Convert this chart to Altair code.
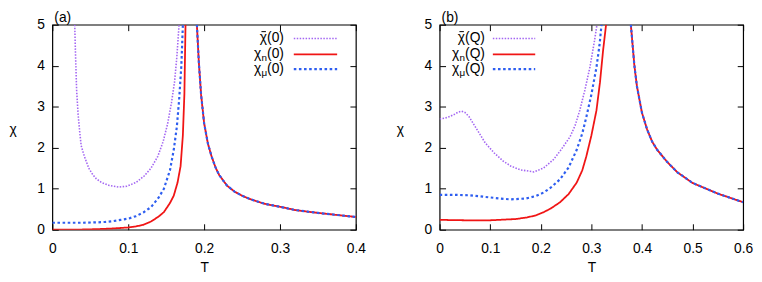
import altair as alt
import pandas as pd

FONT = "Liberation Sans"

# ---------------- panel (a) data ----------------
a_bar_T = [0.0295, 0.0305, 0.032, 0.034, 0.036, 0.038, 0.042, 0.048, 0.053, 0.058, 0.065,
           0.075, 0.087, 0.098, 0.11, 0.121, 0.13, 0.139, 0.146, 0.152, 0.157, 0.161,
           0.164, 0.167]
a_bar_chi = [5.0, 4.3, 3.4, 2.8, 2.4, 2.05, 1.8, 1.5, 1.35, 1.24, 1.15,
             1.08, 1.04, 1.06, 1.15, 1.31, 1.5, 1.79, 2.15, 2.59, 3.1, 3.6,
             4.2, 5.0]
a_n_T = [0, 0.02, 0.04, 0.06, 0.08, 0.1, 0.11, 0.12, 0.13, 0.14, 0.147, 0.155, 0.16, 0.165,
         0.169, 0.172, 0.174, 0.1755]
a_n_chi = [0.0, 0.0, 0.005, 0.015, 0.03, 0.055, 0.08, 0.12, 0.2, 0.32, 0.43, 0.65, 0.83, 1.15,
           1.55, 2.3, 3.3, 5.0]
a_mu_T = [0, 0.02, 0.04, 0.06, 0.07, 0.08, 0.09, 0.1, 0.11, 0.12, 0.13, 0.14, 0.147, 0.155,
          0.16, 0.164, 0.167, 0.17, 0.172]
a_mu_chi = [0.17, 0.17, 0.17, 0.18, 0.19, 0.21, 0.24, 0.27, 0.33, 0.42, 0.55, 0.78, 1.0, 1.45,
            1.95, 2.5, 3.15, 4.0, 5.0]
a_hi_T = [0.1905, 0.193, 0.196, 0.2, 0.205, 0.21, 0.215, 0.22, 0.23, 0.24, 0.25, 0.26, 0.28,
          0.3, 0.32, 0.35, 0.38, 0.4]
a_hi_chi = [5.0, 4.1, 3.3, 2.6, 2.1, 1.78, 1.52, 1.33, 1.08, 0.93, 0.83, 0.75, 0.63,
            0.56, 0.48, 0.41, 0.35, 0.31]

# ---------------- panel (b) data ----------------
b_bar_T = [0, 0.01, 0.02, 0.03, 0.037, 0.0435, 0.05, 0.058, 0.066, 0.076, 0.09, 0.108, 0.125,
           0.141, 0.16, 0.186, 0.205, 0.225, 0.24, 0.258, 0.268, 0.277, 0.287, 0.297, 0.306,
           0.311]
b_bar_chi = [2.7, 2.72, 2.76, 2.82, 2.87, 2.89, 2.86, 2.76, 2.6, 2.4, 2.12, 1.87, 1.68,
             1.55, 1.46, 1.41, 1.5, 1.71, 1.95, 2.27, 2.55, 2.91, 3.4, 3.96, 4.6,
             5.0]
b_n_T = [0, 0.05, 0.1, 0.15, 0.173, 0.19, 0.206, 0.22, 0.238, 0.255, 0.271, 0.282, 0.29, 0.3,
         0.31, 0.317, 0.323, 0.329]
b_n_chi = [0.24, 0.23, 0.23, 0.26, 0.3, 0.35, 0.43, 0.52, 0.67, 0.87, 1.15, 1.45, 1.79, 2.3,
           2.91, 3.6, 4.36, 5.0]
b_mu_T = [0, 0.03, 0.06, 0.09, 0.12, 0.14, 0.17, 0.19, 0.206, 0.22, 0.238, 0.255, 0.271, 0.282,
          0.29, 0.3, 0.31, 0.316, 0.32]
b_mu_chi = [0.85, 0.85, 0.84, 0.8, 0.76, 0.74, 0.76, 0.82, 0.91, 1.03, 1.23, 1.52, 1.95, 2.35,
            2.75, 3.3, 3.96, 4.5, 5.0]
b_hi_T = [0.378, 0.385, 0.39, 0.4, 0.41, 0.42, 0.43, 0.45, 0.47, 0.5, 0.55, 0.6]
b_hi_chi = [5.0, 4.0, 3.5, 2.85, 2.45, 2.15, 1.95, 1.65, 1.4, 1.14, 0.88, 0.67]

a_xticks = [0, 0.1, 0.2, 0.3, 0.4]
b_xticks = [0, 0.1, 0.2, 0.3, 0.4, 0.5, 0.6]
yticks = [0, 1, 2, 3, 4, 5]

W, H = 308, 208
TICK = 6
YMAX = 5

STYLE = {
    "bar": dict(color="#a366f2", strokeDash=[1.5, 1.5], strokeWidth=1.6),
    "n": dict(color="#f01515", strokeDash=[1, 0], strokeWidth=1.8),
    "mu": dict(color="#2e5ef0", strokeDash=[2.6, 2.6], strokeWidth=2.2),
}


def seg_df(T_lo, c_lo, T_hi, c_hi):
    rows = [{"T": t, "chi": c, "seg": "lo"} for t, c in zip(T_lo, c_lo)]
    rows += [{"T": t, "chi": c, "seg": "hi"} for t, c in zip(T_hi, c_hi)]
    return pd.DataFrame(rows)


ONE = pd.DataFrame({"k": [0]})

# inward ticks: the axis is pulled inside by TICK px, ticks of TICK px reach the frame
TICK_AX = dict(grid=False, domain=False, ticks=True, tickSize=TICK, offset=-TICK,
               tickColor="black", tickWidth=1)


def panel(label, xmax, xticks, curves, arg, leg_end, leg_x1, leg_x2):
    xscale = alt.Scale(domain=[0, xmax], nice=False, zero=False)
    yscale = alt.Scale(domain=[0, YMAX], nice=False)
    layers = []
    for i, key in enumerate(["bar", "n", "mu"]):
        st = STYLE[key]
        if i == 0:
            xax = alt.Axis(values=xticks, format="~g", title="T", labelPadding=12,
                           titlePadding=5, labelFlush=False, orient="bottom", **TICK_AX)
            yax = alt.Axis(values=yticks, format="d", title="χ", labelPadding=8,
                           titleAngle=0, titleX=-44 - TICK, titleY=106, orient="left",
                           titleAlign="left", titleBaseline="middle", **TICK_AX)
        else:
            xax = None
            yax = None
        layers.append(
            alt.Chart(curves[key]).mark_line(clip=True, **st).encode(
                x=alt.X("T:Q", scale=xscale, axis=xax),
                y=alt.Y("chi:Q", scale=yscale, axis=yax),
                detail="seg:N"))

    # mirror ticks on top and right
    layers.append(
        alt.Chart(curves["n"]).mark_line(opacity=0).encode(
            x=alt.X("T:Q", scale=xscale,
                    axis=alt.Axis(values=xticks, labels=False, title=None, orient="top",
                                  **TICK_AX)),
            y=alt.Y("chi:Q", scale=yscale,
                    axis=alt.Axis(values=yticks, labels=False, title=None, orient="right",
                                  **TICK_AX)),
            detail="seg:N"))

    # key (legend)
    suf = "(" + arg + ")"
    wsuf = 17.1 if arg == "0" else 20.2
    wchi = 7.4
    rows = [("bar", "", 14), ("n", "n", 30), ("mu", "μ", 45)]
    for key, sub, yy in rows:
        st = STYLE[key]
        layers.append(alt.Chart(ONE).mark_rule(**st).encode(
            x=alt.value(leg_x1), x2=alt.value(leg_x2), y=alt.value(yy)))
        layers.append(alt.Chart(ONE).mark_text(
            font=FONT, fontSize=14, align="right", baseline="middle").encode(
            x=alt.value(leg_end), y=alt.value(yy), text=alt.value(suf)))
        wsub = 0
        if sub:
            wsub = 6.0
            layers.append(alt.Chart(ONE).mark_text(
                font=FONT, fontSize=10, align="right", baseline="middle").encode(
                x=alt.value(leg_end - wsuf), y=alt.value(yy + 4), text=alt.value(sub)))
        chi_r = leg_end - wsuf - wsub
        layers.append(alt.Chart(ONE).mark_text(
            font=FONT, fontSize=14, align="right", baseline="middle").encode(
            x=alt.value(chi_r), y=alt.value(yy), text=alt.value("χ")))
        if key == "bar":
            layers.append(alt.Chart(ONE).mark_rule(color="black", strokeWidth=1).encode(
                x=alt.value(chi_r - wchi / 2 - 2), x2=alt.value(chi_r - wchi / 2 + 2.5),
                y=alt.value(yy - 7)))

    return alt.layer(*layers).resolve_axis(x="independent", y="independent").properties(
        width=W, height=H,
        title=alt.TitleParams(label, anchor="start", frame="group", fontSize=14,
                              font=FONT, fontWeight="normal", offset=-7, dx=2))


curves_a = {
    "bar": seg_df(a_bar_T, a_bar_chi, a_hi_T, a_hi_chi),
    "n": seg_df(a_n_T, a_n_chi, a_hi_T, a_hi_chi),
    "mu": seg_df(a_mu_T, a_mu_chi, a_hi_T, a_hi_chi),
}
curves_b = {
    "bar": seg_df(b_bar_T, b_bar_chi, b_hi_T, b_hi_chi),
    "n": seg_df(b_n_T, b_n_chi, b_hi_T, b_hi_chi),
    "mu": seg_df(b_mu_T, b_mu_chi, b_hi_T, b_hi_chi),
}

pa = panel("(a)", 0.4, a_xticks, curves_a, "0", 235, 245, 289)
pb = panel("(b)", 0.6, b_xticks, curves_b, "Q", 46, 54, 97)

chart = alt.hconcat(pa, pb, spacing=29).properties(
    padding=0, background="white"
).configure_view(stroke="black", strokeWidth=1.2).configure_axis(
    labelFont=FONT, labelFontSize=14, titleFont=FONT, titleFontSize=14,
    labelColor="black", titleColor="black", titleFontWeight="normal"
)

chart.save("out.html", embed_options={"renderer": "svg", "actions": False})
